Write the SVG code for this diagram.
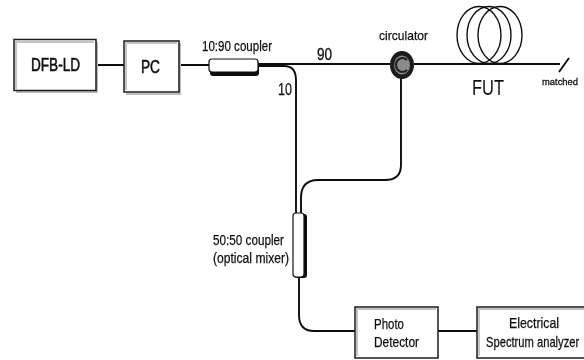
<svg xmlns="http://www.w3.org/2000/svg" width="584" height="360" viewBox="0 0 584 360">
<defs><style>
text{font-family:"Liberation Sans",Arial,sans-serif;fill:#111;text-anchor:start}
.box{fill:#fff;stroke:#1a1a1a;stroke-width:1.5}
.inner{fill:none;stroke:#c4c4c4;stroke-width:2}
.shadow{fill:none;stroke:#bdbdbd;stroke-width:2}
.fib{fill:none;stroke:#111;stroke-width:1.9}
.coil{fill:none;stroke:#111;stroke-width:1.4}
.cp{fill:#fff;stroke:#111;stroke-width:1.2}
.m{font-size:14.500px;stroke:#111;stroke-width:.25}
.b{font-size:18px;stroke:#111;stroke-width:.55}
</style>
<filter id="soft" x="-2%" y="-2%" width="104%" height="104%"><feGaussianBlur stdDeviation="0.4"/></filter></defs>
<rect width="584" height="360" fill="#fff"/>
<g filter="url(#soft)">
<g id="connectors">
<path class="fib" d="M96 65H124M179 65H209"/>
<path class="fib" d="M258 64H390M414 64H560"/>
<path class="fib" d="M258 66H284Q296 66 296 80V213"/>
<path class="fib" d="M301 213V198Q301 180 318 180H385Q401 180 401 165V78"/>
<path class="fib" d="M299 277V315Q299 331 314 331H355"/>
<path class="fib" d="M438 331H477"/>
<path class="fib" d="M559 72L569 58"/>
</g>
<g id="dfb-ld"><path class="shadow" d="M97 42V92H16"/><rect class="box" x="14" y="39.500" width="82" height="51"/><path class="inner" d="M16 89V42H94"/><text class="b" x="31" y="71" textLength="49" lengthAdjust="spacingAndGlyphs">DFB-LD</text></g>
<g id="pc"><path class="shadow" d="M180 43V94H126"/><rect class="box" x="124" y="41" width="55" height="51"/><path class="inner" d="M126 90V43H177"/><text class="b" x="141" y="73" textLength="19" lengthAdjust="spacingAndGlyphs">PC</text></g>
<g id="coupler-1090"><rect x="210" y="61" width="49" height="15" rx="3" fill="#111"/><rect class="cp" x="209" y="59" width="49" height="13" rx="3"/><text class="m" x="202" y="51" textLength="70" lengthAdjust="spacingAndGlyphs">10:90 coupler</text></g>
<text class="m" x="278" y="95" textLength="14" lengthAdjust="spacingAndGlyphs" style="font-size:16px">10</text>
<text class="m" x="317" y="60" textLength="15" lengthAdjust="spacingAndGlyphs" style="font-size:16px;stroke-width:.35">90</text>
<g id="circulator"><ellipse cx="402" cy="65" rx="12" ry="14" fill="#1a1a1a"/><ellipse cx="402" cy="65" rx="8" ry="9.500" fill="#8c8c8c"/><path d="M407 60A6.500 7 0 1 0 407 70" fill="none" stroke="#222" stroke-width="2.200"/><text class="m" x="379" y="40" textLength="49" lengthAdjust="spacingAndGlyphs" style="font-size:13.500px">circulator</text></g>
<g id="fut"><ellipse class="coil" cx="479" cy="35" rx="22" ry="28.500"/><ellipse class="coil" cx="489" cy="35" rx="22" ry="28.500"/><ellipse class="coil" cx="500" cy="35" rx="22" ry="28.500"/><text x="472" y="95" textLength="32" lengthAdjust="spacingAndGlyphs" style="font-size:22px">FUT</text></g>
<text x="542" y="85" textLength="36" lengthAdjust="spacingAndGlyphs" style="font-size:9.500px;stroke:#111;stroke-width:.3">matched</text>
<g id="coupler-5050"><rect x="294" y="214" width="13" height="64" rx="3" fill="#111"/><rect class="cp" x="293" y="213" width="11" height="64" rx="3"/><text class="m" x="213" y="245" textLength="71" lengthAdjust="spacingAndGlyphs">50:50 coupler</text><text class="m" x="213" y="263" textLength="76" lengthAdjust="spacingAndGlyphs">(optical mixer)</text></g>
<g id="photo-detector"><path class="inner" d="M357 356V309H436"/><rect x="355" y="307" width="83" height="51" fill="none" stroke="#1a1a1a" stroke-width="1.5"/><text class="m" x="374" y="329" textLength="30" lengthAdjust="spacingAndGlyphs">Photo</text><text class="m" x="374" y="347" textLength="45" lengthAdjust="spacingAndGlyphs">Detector</text></g>
<g id="esa"><path class="inner" d="M479 356V309H584"/><rect x="477" y="307" width="110" height="51" fill="none" stroke="#1a1a1a" stroke-width="1.5"/><text class="m" x="509" y="328" textLength="50" lengthAdjust="spacingAndGlyphs">Electrical</text><text class="m" transform="translate(486 347) scale(.8 1)" x="0" y="0" style="font-size:14px">Spectrum analyzer</text></g>
</g>
</svg>
